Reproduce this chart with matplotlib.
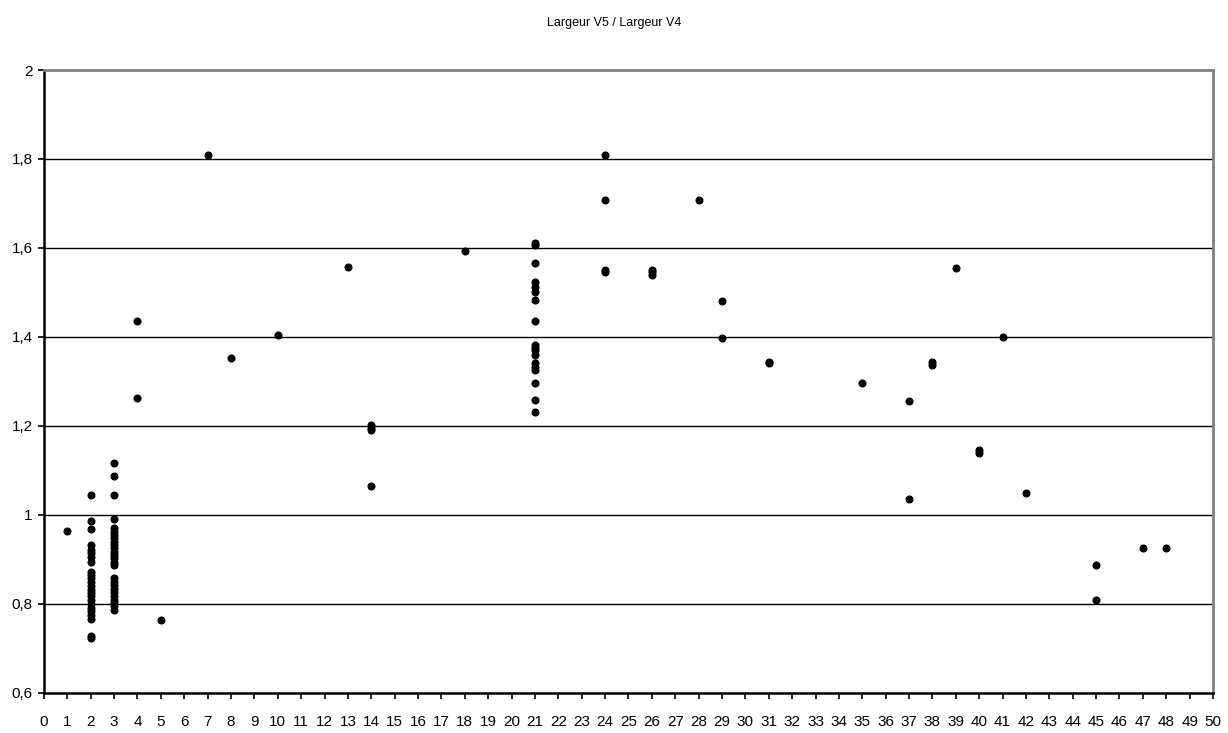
import numpy as np
import matplotlib.pyplot as plt

plt.rcParams['font.family'] = ['Liberation Sans', 'DejaVu Sans']

# ratio values grouped by x position
x_pos = [1, 2, 3, 4, 5, 7, 8, 10, 13, 14, 18, 21, 24, 26, 28, 29, 31, 35, 37, 38,
         39, 40, 41, 42, 45, 47, 48]
ratios = [
    [0.965],
    [1.045, 0.986, 0.968, 0.933, 0.922, 0.915, 0.906, 0.895, 0.872, 0.866, 0.858,
     0.85, 0.84, 0.832, 0.825, 0.818, 0.81, 0.80, 0.792, 0.785, 0.776, 0.767,
     0.728, 0.724],
    [1.117, 1.088, 1.044, 0.991, 0.971, 0.962, 0.955, 0.948, 0.94, 0.932, 0.925,
     0.917, 0.91, 0.903, 0.895, 0.888, 0.858, 0.85, 0.842, 0.834, 0.826, 0.818,
     0.81, 0.802, 0.795, 0.787],
    [1.437, 1.262],
    [0.763],
    [1.81],
    [1.352],
    [1.405],
    [1.558],
    [1.203, 1.196, 1.19, 1.065],
    [1.593],
    [1.612, 1.607, 1.566, 1.523, 1.513, 1.502, 1.483, 1.435, 1.382, 1.376,
     1.371, 1.36, 1.342, 1.333, 1.326, 1.297, 1.258, 1.232],
    [1.81, 1.707, 1.55, 1.545],
    [1.55, 1.545, 1.54],
    [1.707],
    [1.482, 1.397],
    [1.343, 1.341],
    [1.297],
    [1.257, 1.037],
    [1.343, 1.337],
    [1.554],
    [1.145, 1.14],
    [1.40],
    [1.05],
    [0.888, 0.808],
    [0.925],
    [0.925],
]

xs = np.concatenate([[x] * len(r) for x, r in zip(x_pos, ratios)])
ys = np.concatenate(ratios)

fig = plt.figure(figsize=(12.28, 7.33), dpi=100)
ax = fig.add_axes([0.0358, 0.0546, 0.952, 0.8499])

yticks = np.arange(0.6, 2.01, 0.2)
for yv in yticks[1:-1]:
    ax.axhline(yv, color='black', lw=1.0, zorder=1)

ax.plot(xs, ys, 'o', color='black', ms=4.8, mec='black', zorder=3, clip_on=False)

ax.set_xlim(0, 50)
ax.set_ylim(0.6, 2.0)
ax.set_xticks(range(0, 51))
ax.set_yticks(yticks)
ax.set_yticklabels([('%.1f' % v).replace('.', ',').replace(',0', '') for v in yticks])
ax.tick_params(axis='both', direction='out', length=4.5, width=1.2, labelsize=11, colors='black')
ax.tick_params(axis='x', pad=11)

ax.spines['left'].set_linewidth(1.8)
ax.spines['bottom'].set_linewidth(1.8)
ax.spines['top'].set_color('#808080')
ax.spines['top'].set_linewidth(2)
ax.spines['right'].set_color('#808080')
ax.spines['right'].set_linewidth(2)

fig.text(0.5, 0.968, 'Largeur V5 / Largeur V4', ha='center', va='center', fontsize=9)

fig.savefig('out.png', dpi=100)
